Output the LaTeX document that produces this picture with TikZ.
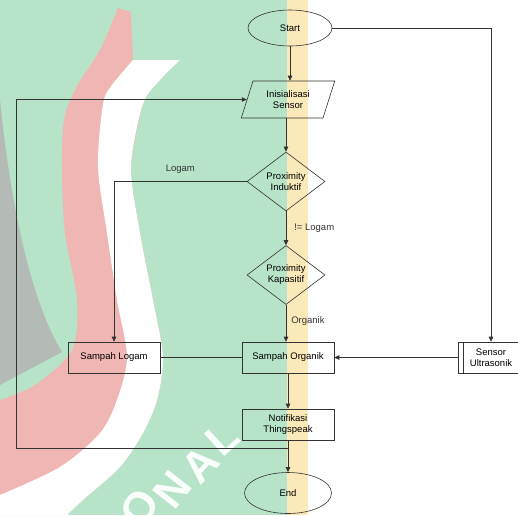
\documentclass[tikz,border=0pt]{standalone}
\usepackage{fontspec}
\setmainfont{Liberation Sans}
\usetikzlibrary{shapes.geometric,arrows.meta}
\definecolor{wm_green}{RGB}{183,227,200}
\definecolor{wm_yellow}{RGB}{252,233,185}
\definecolor{wm_red}{RGB}{240,182,180}
\definecolor{wm_gray}{RGB}{180,186,182}
\begin{document}
\begin{tikzpicture}[x=1pt,y=-1pt,font=\fontsize{9.5}{11}\selectfont,
    term_style/.style={ellipse,draw=black!80,line width=0.6pt,minimum width=84pt,minimum height=36pt,inner sep=0pt},
    io_style/.style={trapezium,trapezium left angle=68,trapezium right angle=112,trapezium stretches=true,
                     draw=black!80,line width=0.6pt,minimum width=94pt,minimum height=37pt,inner sep=0pt,align=center},
    dec_style/.style={diamond,draw=black!80,line width=0.6pt,minimum width=78pt,minimum height=59pt,inner sep=0pt,align=center},
    proc_style/.style={rectangle,draw=black!80,line width=0.6pt,minimum width=92pt,minimum height=31pt,align=center},
    edge_style/.style={draw=black!80,line width=0.6pt,-{Triangle[length=5pt,width=4.5pt]}},
    line_style/.style={draw=black!80,line width=0.6pt},
    label_style/.style={text=black!80,inner sep=0pt},
    wm_letter/.style={text=white!92!wm_green,font=\fontsize{44}{44}\selectfont\bfseries,inner sep=0pt}]
    \clip (0,0) rectangle (518,515);
    % watermark
    \fill[wm_green] (0,0) rectangle (287,515);
    \fill[wm_yellow] (287,0) rectangle (308,515);
    \fill[wm_red] plot[smooth] coordinates {(118,8) (100,50) (76,88) (64,120) (62,170) (65,233) (77,300) (72,350) (35,385) (0,400)}
        -- (0,515) -- (67,515)
        -- plot[smooth] coordinates {(67,515) (83,500) (120,467) (143,433) (157,400) (163,357) (153,300) (140,233) (131,167) (143,104)}
        -- (133,60) -- (131,12) -- cycle;
    \fill[white] (180,60) -- (133,60)
        -- plot[smooth] coordinates {(133,60) (112,85) (103,104) (98,167) (107,233) (117,300) (127,357) (117,400) (100,433) (60,467) (0,495)}
        -- (0,515) -- (67,515)
        -- plot[smooth] coordinates {(67,515) (83,500) (120,467) (143,433) (157,400) (163,357) (153,300) (140,233) (131,167) (143,104) (160,80) (180,60)}
        -- cycle;
    \fill[wm_gray] (0,100) .. controls (10,200) and (30,300) .. (62,352) -- (0,385) -- cycle;
    \foreach \ch/\px/\py/\rot in {O/140/508/58, N/172/490/52, A/200/465/47, L/222/438/42}
        \node[wm_letter,rotate=\rot] (wm\ch) at (\px,\py) {\ch};
    % flowchart
    \node[term_style] (start) at (290,28) {Start};
    \node[io_style] (init) at (288,99.5) {Inisialisasi\\Sensor};
    \node[dec_style] (induktif) at (286,181.5) {Proximity\\Induktif};
    \node[dec_style] (kapasitif) at (286,275) {Proximity\\Kapasitif};
    \node[proc_style] (logam) at (114,357.5) {Sampah Logam};
    \node[proc_style] (organik) at (288,357.5) {Sampah Organik};
    \node[proc_style,minimum width=66pt] (sensor) at (491,357.5) {Sensor\\Ultrasonik};
    \node[proc_style] (notif) at (288,424.5) {Notifikasi\\Thingspeak};
    \node[term_style,minimum width=87pt,minimum height=41pt] (end) at (288,493) {End};
    \coordinate (join) at (288,448);
    \coordinate (back) at (16,448);
    \draw[line_style] ([xshift=6pt]sensor.north west) -- ([xshift=6pt]sensor.south west);
    \draw[line_style] ([xshift=-6pt]sensor.north east) -- ([xshift=-6pt]sensor.south east);
    \draw[edge_style] (start) -- (start |- init.north);
    \draw[edge_style] (start.east) -| (sensor.north);
    \draw[edge_style] (induktif |- init.south) -- (induktif);
    \draw[edge_style] (induktif.west) -| node[label_style,pos=0.25,above=8pt]{Logam} (logam.north);
    \draw[edge_style] (induktif) -- node[label_style,right=8pt]{!= Logam} (kapasitif);
    \draw[edge_style] (kapasitif.south) -- node[label_style,right=5pt,pos=0.45]{Organik} (kapasitif.south |- organik.north);
    \draw[line_style] (logam) -- (organik);
    \draw[edge_style] (sensor) -- (organik);
    \draw[edge_style] (organik) -- (notif);
    \draw[line_style] (notif) -- (join);
    \draw[edge_style] (join) -- (end);
    \draw[edge_style] (join) -- (back) |- (init.west);
\end{tikzpicture}
\end{document}
